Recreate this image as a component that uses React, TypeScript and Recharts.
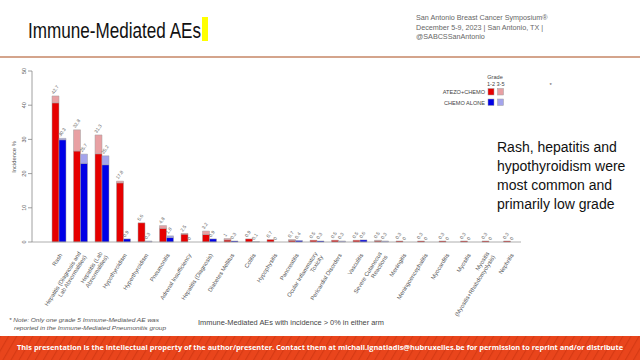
import { ComposedChart, Bar, Scatter, XAxis, YAxis } from "recharts";

// ── Data ────────────────────────────────────────────────────────────────

const categories = [
  "Rash",
  "Hepatitis (Diagnosis and\nLab Abnormalities)",
  "Hepatitis (Lab\nAbnormalities)",
  "Hypothyroidism",
  "Hyperthyroidism",
  "Pneumonitis",
  "Adrenal Insufficiency",
  "Hepatitis (Diagnosis)",
  "Diabetes Mellitus",
  "Colitis",
  "Hypophysitis",
  "Pancreatitis",
  "Ocular Inflammatory\nToxicity",
  "Pericardial Disorders",
  "Vasculitis",
  "Severe Cutaneous\nReactions",
  "Meningitis",
  "Meningoencephalitis",
  "Myocarditis",
  "Myositis",
  "Myositis\n(Myositis+Rhabdomyolysis)",
  "Nephritis",
];

const atezoGrade12 = [40.7, 26.6, 25.8, 17.3, 5.6, 4.0, 2.3, 2.2, 0.6, 0.9, 0.7, 0.5, 0.5, 0.5, 0.5, 0.3, 0.3, 0.3, 0.3, 0.3, 0.3, 0.3];
const atezoGrade35 = [2.0, 6.2, 5.5, 0.5, 0, 0.8, 0.2, 1.0, 0.4, 0, 0, 0.2, 0, 0, 0, 0.2, 0, 0, 0, 0, 0, 0];
const chemoGrade12 = [29.9, 23.0, 22.6, 0.9, 0, 1.3, 0, 0.9, 0.3, 0, 0, 0.4, 0.3, 0, 0.6, 0, 0, 0, 0, 0, 0, 0];
const chemoGrade35 = [0.4, 2.7, 2.6, 0, 0.3, 0.5, 0, 0, 0, 0.1, 0, 0, 0, 0.3, 0, 0.3, 0, 0, 0, 0, 0, 0];

// printed totals above each bar
const atezoLabels = [42.7, 32.8, 31.3, 17.8, 5.6, 4.8, 2.5, 3.2, 1, 0.9, 0.7, 0.7, 0.5, 0.5, 0.5, 0.5, 0.3, 0.3, 0.3, 0.3, 0.3, 0.3];
const chemoLabels = [30.3, 25.7, 25.2, 0.9, 0.3, 1.8, 0, 0.9, 0.3, 0.1, 0, 0.4, 0.3, 0.3, 0.6, 0.3, 0, 0, 0, 0, 0, 0];

const yTicks = [0, 10, 20, 30, 40, 50];

const RED = "#e60000";
const RED_LIGHT = "#e8a0a3";
const BLUE = "#0000e6";
const BLUE_LIGHT = "#a4a4ec";
const OUTLINE = "#a0a0a0";
const FONT = "'Liberation Sans', Arial, sans-serif";
const BAR_W = 7;

const data = categories.map((name, i) => ({
  name,
  a12: atezoGrade12[i],
  a35: atezoGrade35[i],
  c12: chemoGrade12[i],
  c35: chemoGrade35[i],
  aLbl: atezoLabels[i],
  cLbl: chemoLabels[i],
}));

// ── Custom ticks / labels ───────────────────────────────────────────────

function CategoryTick(props: any) {
  const { x, y, payload } = props;
  const lines = String(payload.value).split("\n");
  const first = 2 - (lines.length - 1) * 3.3;
  return (
    <text
      transform={`translate(${x + 2},${y + 4}) rotate(-58)`}
      textAnchor="end"
      fontSize={5.8}
      fill="#555"
      fontFamily={FONT}
    >
      {lines.map((l, i) => (
        <tspan key={i} x={0} dy={i === 0 ? first : 6.6}>
          {l}
        </tspan>
      ))}
    </text>
  );
}

function ValueTick(props: any) {
  const { x, y, payload } = props;
  return (
    <text
      transform={`translate(${x + 2},${y}) rotate(-90)`}
      textAnchor="middle"
      fontSize={5.5}
      fill="#555"
      fontFamily={FONT}
    >
      {payload.value}
    </text>
  );
}

// total printed at the top of each bar; shift = which bar of the pair
const totalLabel = (shift: number, key: "aLbl" | "cLbl") => (p: any) => {
  const { cx, cy, payload } = p;
  if (cx == null || cy == null) return <g />;
  return (
    <text
      transform={`translate(${cx + shift - 1.5},${cy - 1.5}) rotate(-55)`}
      fontSize={4.8}
      fill="#666"
      fontFamily={FONT}
    >
      {String(payload[key])}
    </text>
  );
};

// ── Slide ───────────────────────────────────────────────────────────────

export default function App() {
  return (
    <div style={{ position: "absolute", left: 0, top: 0, width: 640, height: 360, background: "#fff", overflow: "hidden" }}>
      <div style={{ position: "absolute", left: 0, top: 0 }}>
        <ComposedChart
          width={640}
          height={360}
          data={data}
          margin={{ top: 71, right: 119, bottom: 58, left: 0 }}
          barSize={BAR_W}
          barGap={0}
        >
          <XAxis
            dataKey="name"
            interval={0}
            height={60}
            padding={{ left: 16, right: 0 }}
            tickLine={false}
            axisLine={{ stroke: "#999", strokeWidth: 0.8 }}
            tick={<CategoryTick />}
          />
          <YAxis
            domain={[0, 50]}
            ticks={yTicks}
            width={32}
            tickSize={4}
            tickMargin={4}
            axisLine={{ stroke: "#888", strokeWidth: 0.8 }}
            tickLine={{ stroke: "#888", strokeWidth: 0.8 }}
            tick={<ValueTick />}
          />
          <Bar dataKey="a12" stackId="atezo" fill={RED} stroke={OUTLINE} strokeWidth={0.5} isAnimationActive={false} />
          <Bar dataKey="a35" stackId="atezo" fill={RED_LIGHT} stroke={OUTLINE} strokeWidth={0.5} isAnimationActive={false} />
          <Bar dataKey="c12" stackId="chemo" fill={BLUE} stroke={OUTLINE} strokeWidth={0.5} isAnimationActive={false} />
          <Bar dataKey="c35" stackId="chemo" fill={BLUE_LIGHT} stroke={OUTLINE} strokeWidth={0.5} isAnimationActive={false} />
          <Scatter dataKey="aLbl" shape={totalLabel(-BAR_W / 2, "aLbl")} isAnimationActive={false} />
          <Scatter dataKey="cLbl" shape={totalLabel(BAR_W / 2, "cLbl")} isAnimationActive={false} />
        </ComposedChart>
      </div>

      {/* slide furniture */}
      <svg width={640} height={360} style={{ position: "absolute", left: 0, top: 0, pointerEvents: "none" }}>
        <defs>
          <pattern id="stripes" width="7" height="7" patternUnits="userSpaceOnUse" patternTransform="rotate(30)">
            <rect width="7" height="7" fill="#e9451c" />
            <rect width="1.2" height="7" fill="#d63a14" />
          </pattern>
        </defs>

        {/* title */}
        <text x={28} y={38} fontSize={22} fill="#111" fontFamily={FONT} textLength={173} lengthAdjust="spacingAndGlyphs">
          Immune-Mediated AEs
        </text>
        <rect x={202} y={17} width={6} height={24} fill="#ffff00" />

        {/* meeting header */}
        <g fontSize={7.2} fill="#666" fontFamily={FONT}>
          <text x={416} y={20}>San Antonio Breast Cancer Symposium®</text>
          <text x={416} y={30}>December 5-9, 2023  |  San Antonio, TX  |</text>
          <text x={416} y={39}>@SABCSSanAntonio</text>
        </g>
        <rect x={0} y={56} width={640} height={2} fill="#d4a48c" />

        {/* y-axis title */}
        <text transform="translate(16,157) rotate(-90)" textAnchor="middle" fontSize={5.8} fill="#555" fontFamily={FONT}>
          Incidence %
        </text>

        {/* legend */}
        <g fontFamily={FONT} fill="#444" fontSize={5.6}>
          <text x={495} y={79} textAnchor="middle">Grade</text>
          <text x={491} y={85.5} textAnchor="middle">1-2</text>
          <text x={500.5} y={85.5} textAnchor="middle">3-5</text>
          <text x={485} y={94} textAnchor="end">ATEZO+CHEMO</text>
          <text x={485} y={104.5} textAnchor="end">CHEMO ALONE</text>
        </g>
        <rect x={488} y={88.5} width={6} height={6.5} fill={RED} stroke={OUTLINE} strokeWidth={0.5} />
        <rect x={497.5} y={88.5} width={6} height={6.5} fill={RED_LIGHT} stroke={OUTLINE} strokeWidth={0.5} />
        <rect x={488} y={99} width={6} height={6.5} fill={BLUE} stroke={OUTLINE} strokeWidth={0.5} />
        <rect x={497.5} y={99} width={6} height={6.5} fill={BLUE_LIGHT} stroke={OUTLINE} strokeWidth={0.5} />
        <text x={549.5} y={87} fontSize={6} fill="#555" fontFamily={FONT}>*</text>

        {/* takeaway */}
        <g fontSize={14} fill="#111" fontFamily={FONT}>
          <text x={497} y={152}>Rash, hepatitis and</text>
          <text x={497} y={171}>hypothyroidism were</text>
          <text x={497} y={190}>most common and</text>
          <text x={497} y={209}>primarily low grade</text>
        </g>

        {/* footnote + x title */}
        <g fontSize={5.6} fill="#555" fontFamily={FONT} fontStyle="italic">
          <text x={9} y={322} textLength={150} lengthAdjust="spacingAndGlyphs">* Note: Only one grade 5 Immune-Mediated AE was</text>
          <text x={14} y={330} textLength={152} lengthAdjust="spacingAndGlyphs">reported in the Immune-Mediated Pneumonitis group</text>
        </g>
        <text x={198} y={325} fontSize={7} fill="#444" fontFamily={FONT} textLength={186} lengthAdjust="spacingAndGlyphs">
          Immune-Mediated AEs with incidence &gt; 0% in either arm
        </text>

        {/* footer */}
        <rect x={0} y={336} width={640} height={24} fill="url(#stripes)" />
        <text
          x={320}
          y={350}
          textAnchor="middle"
          fontSize={7.4}
          fontWeight="bold"
          fill="#fff"
          fontFamily="'Open Sans', 'Liberation Sans', sans-serif"
          textLength={606}
          lengthAdjust="spacingAndGlyphs"
        >
          This presentation is the intellectual property of the author/presenter. Contact them at michail.ignatiadis@hubruxelles.be for permission to reprint and/or distribute
        </text>
      </svg>
    </div>
  );
}
